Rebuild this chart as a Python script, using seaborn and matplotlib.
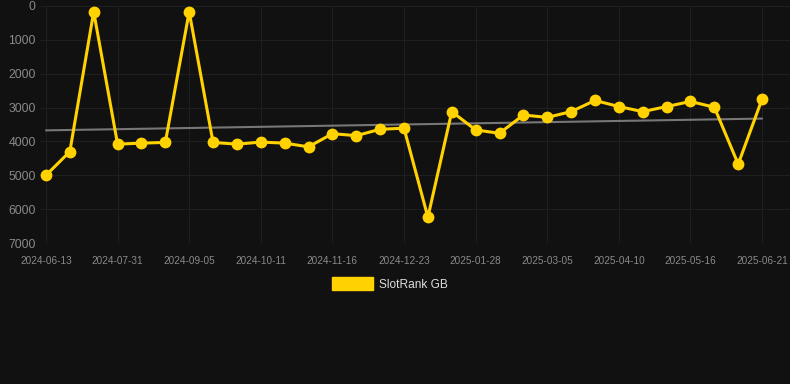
import numpy as np
import pandas as pd
import matplotlib
matplotlib.use("Agg")
import matplotlib.pyplot as plt
import matplotlib.patches as mpatches
import seaborn as sns

# rank per snapshot (lower is better)
ranks = [5000, 4300, 170, 4080, 4050, 4030, 170, 4030, 4080, 4020,
         4050, 4160, 3770, 3830, 3640, 3610, 6240, 3120, 3660, 3760,
         3220, 3290, 3120, 2790, 2970, 3120, 2970, 2820, 2990, 4670,
         2750]
tick_labels = ['2024-06-13', '2024-07-31', '2024-09-05', '2024-10-11',
               '2024-11-16', '2024-12-23', '2025-01-28', '2025-03-05',
               '2025-04-10', '2025-05-16', '2025-06-21']
y_ticks = [0, 1000, 2000, 3000, 4000, 5000, 6000, 7000]

bg = '#111111'
gold = '#FFD200'
grid_c = '#1f1f1f'
txt_c = '#8a8a8a'

df = pd.DataFrame({'idx': np.arange(len(ranks)), 'rank': ranks})

sns.set_theme(style='dark')
plt.rcParams['font.family'] = ['Liberation Sans', 'DejaVu Sans']

fig = plt.figure(figsize=(7.9, 3.84), dpi=100, facecolor=bg)
ax = fig.add_axes([40 / 790, 1 - 243 / 384, 750 / 790, 237 / 384])
ax.set_facecolor(bg)

# trend line
coef = np.polyfit(df['idx'], df['rank'], 1)
ax.plot(df['idx'], np.polyval(coef, df['idx']), color='#777777', lw=1.5, zorder=2)

sns.lineplot(data=df, x='idx', y='rank', color=gold, lw=2.2, marker='o',
             markersize=8.5, markeredgewidth=0, ax=ax, zorder=3)

ax.set_xlim(-0.25, 31.17)
ax.set_ylim(7000, 0)
ax.set_xticks(np.arange(0, len(ranks), 3))
ax.set_xticklabels(tick_labels)
ax.set_yticks(y_ticks)
ax.set_yticklabels([str(v) for v in y_ticks])
ax.tick_params(axis='x', colors=txt_c, labelsize=7.2, length=6, width=0.8,
               color=grid_c, pad=3)
ax.tick_params(axis='y', colors=txt_c, labelsize=8.8, length=0, pad=3)
ax.grid(True, color=grid_c, lw=0.8)
for s in ax.spines.values():
    s.set_visible(False)
ax.set_xlabel('')
ax.set_ylabel('')

handle = mpatches.Patch(color=gold, label='SlotRank GB')
fig.legend(handles=[handle], loc='center', bbox_to_anchor=(390 / 790, 1 - 284 / 384),
           frameon=False, fontsize=8.6, labelcolor='#dddddd', handlelength=3.4,
           handleheight=1.2, handletextpad=0.5)

fig.savefig('out.png', dpi=100, facecolor=bg)
